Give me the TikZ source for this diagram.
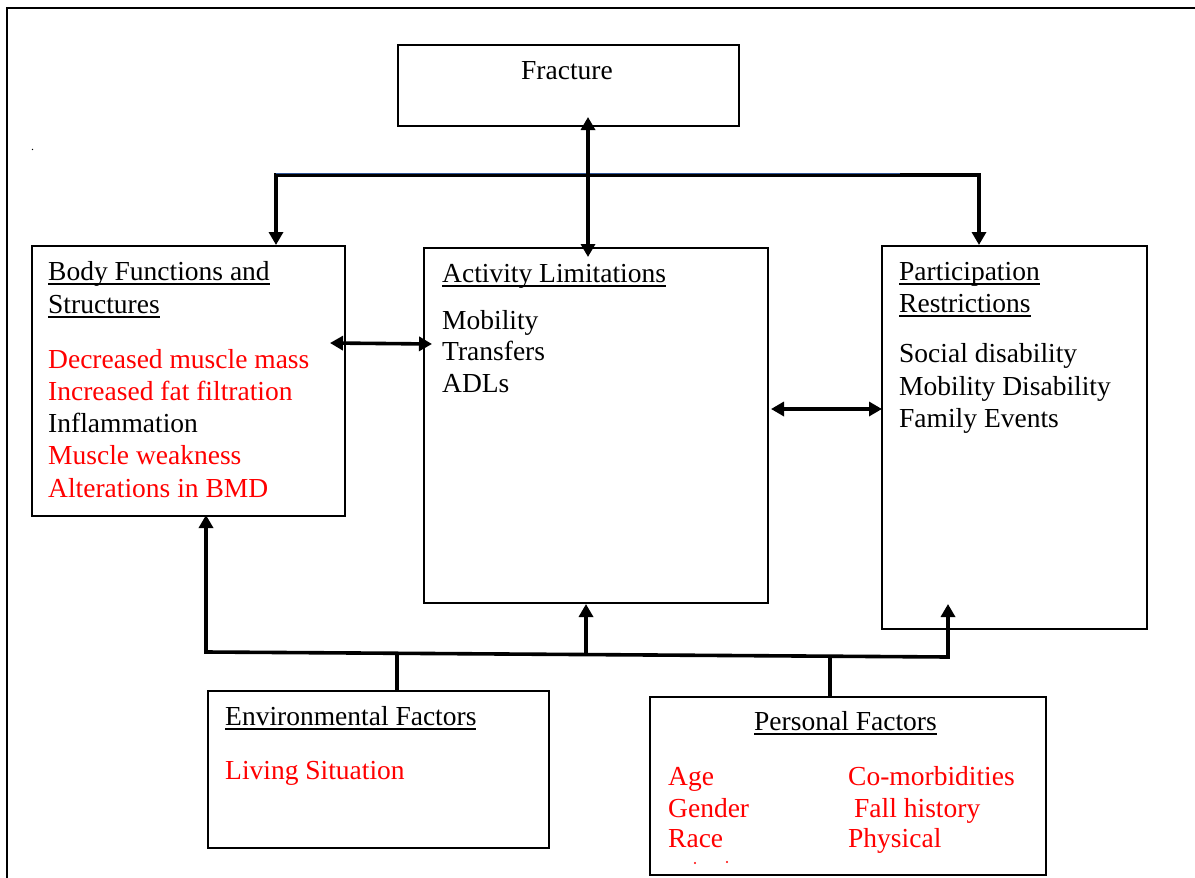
\documentclass[tikz,border=0pt]{standalone}
\usepackage{fontspec}
\setmainfont{Liberation Serif}
\usetikzlibrary{arrows.meta,calc}
\definecolor{txtred}{RGB}{255,0,0}
\definecolor{busblue}{RGB}{47,85,151}
\newcommand\myul[1]{\setbox0=\hbox{#1}\rlap{\rule[-4.5pt]{\wd0}{1.5pt}}\box0}
\begin{document}
\begin{tikzpicture}[x=1pt,y=-1pt,
  box/.style={draw, line width=2pt, inner sep=0pt, anchor=north west},
  txt/.style={inner sep=0pt, anchor=base west, font=\fontsize{27.5}{32}\selectfont},
  redtxt/.style={txt, text=txtred},
  conn/.style={line width=3.6pt},
  arr/.style={-{Triangle[width=14pt,length=13pt]}},
  dbl/.style={{Triangle[width=14pt,length=13pt]}-{Triangle[width=14pt,length=13pt]}}
]
\useasboundingbox (0,0) rectangle (1195,878);
% outer frame (cut at right and bottom)
\draw[line width=2pt] (7,900) -- (7,8) -- (1220,8);

% boxes
\node[box, minimum width=341pt, minimum height=81pt]  (frac) at (397,44) {};
\node[box, minimum width=313pt, minimum height=270pt] (body) at (31,245) {};
\node[box, minimum width=344pt, minimum height=355pt] (act)  at (423,247) {};
\node[box, minimum width=265pt, minimum height=383pt] (part) at (881,245) {};
\node[box, minimum width=341pt, minimum height=157pt] (env)  at (207,690) {};
\node[box, minimum width=396pt, minimum height=178pt] (pers) at (649,696) {};

% texts
\node[txt] (tfrac) at (521,79) {Fracture};
\node[txt, font=\fontsize{12}{14}\selectfont] (dot) at (31,150) {.};

\node[txt] (b1) at (48,280) {\myul{Body Functions and}};
\node[txt] (b2) at (48,313) {\myul{Structures}};
\node[redtxt] (b3) at (48,368) {Decreased muscle mass};
\node[redtxt] (b4) at (48,400) {Increased fat filtration};
\node[txt] (b5) at (48,432) {Inflammation};
\node[redtxt] (b6) at (48,464) {Muscle weakness};
\node[redtxt] (b7) at (48,497) {Alterations in BMD};

\node[txt] (a1) at (442,282) {\myul{Activity Limitations}};
\node[txt] (a2) at (442,329) {Mobility};
\node[txt] (a3) at (442,360) {Transfers};
\node[txt] (a4) at (442,392) {ADLs};

\node[txt] (p1) at (899,280) {\myul{Participation}};
\node[txt] (p2) at (899,312) {\myul{Restrictions}};
\node[txt] (p3) at (899,362) {Social disability};
\node[txt] (p4) at (899,395) {Mobility Disability};
\node[txt] (p5) at (899,427) {Family Events};

\node[txt] (e1) at (225,725) {\myul{Environmental Factors}};
\node[redtxt] (e2) at (225,779) {Living Situation};

\node[txt] (f1) at (754,730) {\myul{Personal Factors}};
\node[redtxt] (f2) at (668,785) {Age};
\node[redtxt] (f3) at (668,817) {Gender};
\node[redtxt] (f4) at (668,847) {Race};
\node[redtxt] (f5) at (848,785) {Co-morbidities};
\node[redtxt] (f6) at (854,817) {Fall history};
\node[redtxt] (f7) at (848,847) {Physical};
\fill[txtred] (695,863) circle (1.2pt) (727,862) circle (1.2pt);

% top bus
\coordinate (busL) at (276,175);
\coordinate (busR) at (979,175);
\draw[conn, dbl, line join=miter] (busL |- body.north) -- (busL) -- (busR) -- (busR |- part.north);
\draw[busblue, line width=1pt] (276,173.5) -- (900,173.5);
% fracture <-> activity
\coordinate (fx) at (588,0);
\draw[conn, dbl] ($(fx |- frac.south)+(0,-10)$) -- ($(fx |- act.north)+(0,10)$);

% horizontal double arrows
\draw[conn, dbl] ($(body.east |- 0,343)+(-16,0)$) -- ($(act.west |- 0,344)+(9,0)$);
\draw[conn, dbl] ($(act.east |- 0,409)+(2,0)$) -- ($(part.west |- 0,409)+(1,0)$);

% bottom bus
\coordinate (bL) at (206,652);
\coordinate (bR) at (948,657);
\coordinate (bM) at (586,654);
\coordinate (bE) at (397,653);
\coordinate (bP) at (830,656);
\draw[conn, dbl, line join=miter] ($(bL |- body.south)+(0,-2)$) -- (bL) -- (bR) -- ($(bR |- part.south)+(0,-26)$);
\draw[conn, arr] (bM) -- (bM |- act.south);
\draw[conn] (bE) -- (bE |- env.north);
\draw[conn] (bP) -- (bP |- pers.north);
\end{tikzpicture}
\end{document}
